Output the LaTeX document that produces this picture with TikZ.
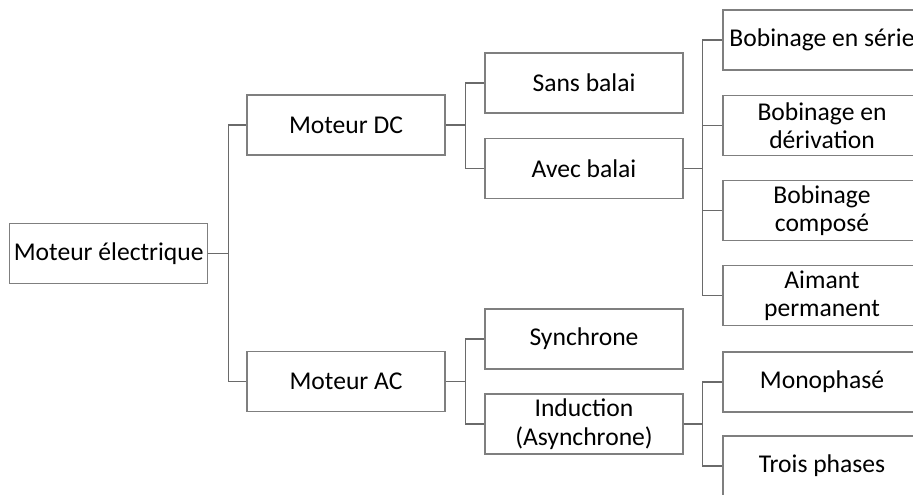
\documentclass[tikz,border=0pt]{standalone}
\usepackage{fontspec}
\setmainfont{Carlito}
\usepackage{tikz}
\usetikzlibrary{positioning}
\definecolor{boxgray}{HTML}{7F7F7F}
\definecolor{linkgray}{HTML}{6A6A6A}
\tikzset{  box/.style={draw=boxgray,line width=1.1pt,minimum width=198pt,minimum height=60pt,inner sep=0pt,align=center,font=\fontsize{25.6}{28.5}\selectfont},
  link/.style={draw=linkgray,line width=1.1pt} }

\begin{document}
\begin{tikzpicture}[x=1pt,y=-1pt]
   \useasboundingbox (0,0) rectangle (913,495);
   \clip (0,0) rectangle (913,495);
   \node[box] (root) at (108.7,253.3) {Moteur électrique};
   \node[box] (dc) at (346,125) {Moteur DC};
   \node[box] (ac) at (346,381.5) {Moteur AC};
   \node[box] (sans) at (584,83) {Sans balai};
   \node[box] (avec) at (584,168.5) {Avec balai};
   \node[box] (sync) at (584,339) {Synchrone};
   \node[box] (induc) at (584,424) {Induction\\(Asynchrone)};
   \node[box] (serie) at (822,40) {Bobinage en série};
   \node[box] (deriv) at (822,125.6) {Bobinage en\\dérivation};
   \node[box] (compose) at (822,210.5) {Bobinage\\composé};
   \node[box] (aimant) at (822,295.7) {Aimant\\permanent};
   \node[box] (mono) at (822,382) {Monophasé};
   \node[box] (trois) at (822,466) {Trois phases};
   \foreach \c in {dc,ac} \draw[link] (root.east) -- ++(20,0) |- (\c.west);
   \foreach \c in {sans,avec} \draw[link] (dc.east) -- ++(20,0) |- (\c.west);
   \foreach \c in {sync,induc} \draw[link] (ac.east) -- ++(20,0) |- (\c.west);
   \foreach \c in {serie,deriv,compose,aimant} \draw[link] (avec.east) -- ++(19,0) |- (\c.west);
   \foreach \c in {mono,trois} \draw[link] (induc.east) -- ++(19,0) |- (\c.west);
  \end{tikzpicture}
\end{document}
